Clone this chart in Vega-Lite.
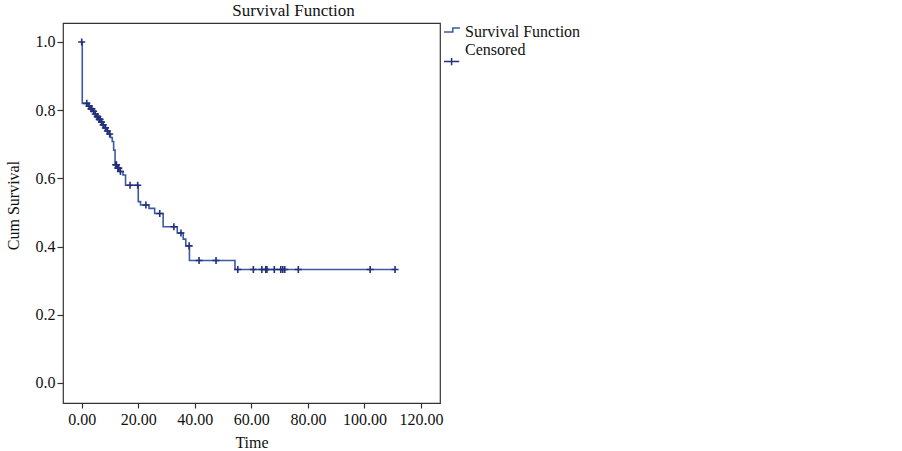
{
  "$schema": "https://vega.github.io/schema/vega-lite/v6.json",
  "width": 377,
  "height": 380,
  "autosize": {"type": "none"},
  "padding": {"left": 63, "top": 23, "right": 462, "bottom": 48},
  "background": "white",
  "title": {"text": "Survival Function", "font": "Liberation Serif", "fontSize": 17, "fontWeight": "normal", "color": "#111", "anchor": "middle", "dx": 42, "offset": 3},
  "config": {
    "view": {"stroke": "#333", "strokeWidth": 1.2},
    "axis": {"labelFont": "Liberation Serif", "titleFont": "Liberation Serif", "labelFontSize": 16, "titleFontSize": 16, "titleFontWeight": "normal", "labelColor": "#111", "titleColor": "#111", "tickColor": "#333", "domain": false, "grid": false, "tickWidth": 1.2}
  },
  "datasets": {
    "surv": [
      {"time": 0, "surv": 1.0, "series": "Survival Function"},
      {"time": 0.2, "surv": 0.82, "series": "Survival Function"},
      {"time": 2.2, "surv": 0.812, "series": "Survival Function"},
      {"time": 3.0, "surv": 0.804, "series": "Survival Function"},
      {"time": 3.8, "surv": 0.797, "series": "Survival Function"},
      {"time": 4.5, "surv": 0.789, "series": "Survival Function"},
      {"time": 5.2, "surv": 0.781, "series": "Survival Function"},
      {"time": 5.9, "surv": 0.773, "series": "Survival Function"},
      {"time": 6.8, "surv": 0.765, "series": "Survival Function"},
      {"time": 7.3, "surv": 0.757, "series": "Survival Function"},
      {"time": 8.0, "surv": 0.748, "series": "Survival Function"},
      {"time": 8.8, "surv": 0.739, "series": "Survival Function"},
      {"time": 9.5, "surv": 0.73, "series": "Survival Function"},
      {"time": 10.2, "surv": 0.72, "series": "Survival Function"},
      {"time": 10.8, "surv": 0.708, "series": "Survival Function"},
      {"time": 11.3, "surv": 0.683, "series": "Survival Function"},
      {"time": 11.8, "surv": 0.64, "series": "Survival Function"},
      {"time": 12.5, "surv": 0.63, "series": "Survival Function"},
      {"time": 13.3, "surv": 0.62, "series": "Survival Function"},
      {"time": 14.6, "surv": 0.61, "series": "Survival Function"},
      {"time": 15.5, "surv": 0.58, "series": "Survival Function"},
      {"time": 20.0, "surv": 0.532, "series": "Survival Function"},
      {"time": 20.8, "surv": 0.522, "series": "Survival Function"},
      {"time": 23.8, "surv": 0.512, "series": "Survival Function"},
      {"time": 25.8, "surv": 0.497, "series": "Survival Function"},
      {"time": 28.8, "surv": 0.458, "series": "Survival Function"},
      {"time": 33.8, "surv": 0.44, "series": "Survival Function"},
      {"time": 35.9, "surv": 0.422, "series": "Survival Function"},
      {"time": 36.8, "surv": 0.402, "series": "Survival Function"},
      {"time": 38.1, "surv": 0.359, "series": "Survival Function"},
      {"time": 54.2, "surv": 0.333, "series": "Survival Function"},
      {"time": 110.8, "surv": 0.333, "series": "Survival Function"}
    ],
    "cens": [
      {"time": 0, "surv": 1.0, "series": "Censored"},
      {"time": 1.8, "surv": 0.82, "series": "Censored"},
      {"time": 2.6, "surv": 0.812, "series": "Censored"},
      {"time": 3.3, "surv": 0.804, "series": "Censored"},
      {"time": 3.6, "surv": 0.804, "series": "Censored"},
      {"time": 4.2, "surv": 0.797, "series": "Censored"},
      {"time": 4.8, "surv": 0.789, "series": "Censored"},
      {"time": 5.5, "surv": 0.781, "series": "Censored"},
      {"time": 5.7, "surv": 0.781, "series": "Censored"},
      {"time": 6.2, "surv": 0.773, "series": "Censored"},
      {"time": 6.5, "surv": 0.773, "series": "Censored"},
      {"time": 7.0, "surv": 0.765, "series": "Censored"},
      {"time": 7.6, "surv": 0.757, "series": "Censored"},
      {"time": 8.4, "surv": 0.748, "series": "Censored"},
      {"time": 9.1, "surv": 0.739, "series": "Censored"},
      {"time": 9.9, "surv": 0.73, "series": "Censored"},
      {"time": 12.0, "surv": 0.64, "series": "Censored"},
      {"time": 12.3, "surv": 0.64, "series": "Censored"},
      {"time": 12.8, "surv": 0.63, "series": "Censored"},
      {"time": 13.1, "surv": 0.63, "series": "Censored"},
      {"time": 13.7, "surv": 0.62, "series": "Censored"},
      {"time": 17.1, "surv": 0.58, "series": "Censored"},
      {"time": 19.8, "surv": 0.58, "series": "Censored"},
      {"time": 22.7, "surv": 0.522, "series": "Censored"},
      {"time": 27.6, "surv": 0.497, "series": "Censored"},
      {"time": 32.6, "surv": 0.458, "series": "Censored"},
      {"time": 35.1, "surv": 0.44, "series": "Censored"},
      {"time": 38.0, "surv": 0.402, "series": "Censored"},
      {"time": 41.5, "surv": 0.359, "series": "Censored"},
      {"time": 47.5, "surv": 0.359, "series": "Censored"},
      {"time": 55.2, "surv": 0.333, "series": "Censored"},
      {"time": 60.7, "surv": 0.333, "series": "Censored"},
      {"time": 63.7, "surv": 0.333, "series": "Censored"},
      {"time": 65.1, "surv": 0.333, "series": "Censored"},
      {"time": 65.5, "surv": 0.333, "series": "Censored"},
      {"time": 68.1, "surv": 0.333, "series": "Censored"},
      {"time": 70.4, "surv": 0.333, "series": "Censored"},
      {"time": 71.1, "surv": 0.333, "series": "Censored"},
      {"time": 71.8, "surv": 0.333, "series": "Censored"},
      {"time": 76.6, "surv": 0.333, "series": "Censored"},
      {"time": 102.0, "surv": 0.333, "series": "Censored"},
      {"time": 110.8, "surv": 0.333, "series": "Censored"}
    ]
  },
  "encoding": {
    "x": {"field": "time", "type": "quantitative", "title": "Time",
      "scale": {"domain": [-6.61, 126.7], "nice": false, "zero": false},
      "axis": {"values": [0, 20, 40, 60, 80, 100, 120], "format": ".2f", "tickSize": 5, "labelPadding": 3, "titlePadding": 7}},
    "y": {"field": "surv", "type": "quantitative", "title": "Cum Survival",
      "scale": {"domain": [-0.0587, 1.0557], "nice": false, "zero": false},
      "axis": {"values": [0, 0.2, 0.4, 0.6, 0.8, 1.0], "format": ".1f", "tickSize": 6, "labelPadding": 2, "titlePadding": 14, "titleY": 182}},
    "color": {"field": "series", "type": "nominal",
      "scale": {"domain": ["Survival Function", "Censored"], "range": ["#3a5aa8", "#22307a"]},
      "legend": {"title": null, "orient": "none", "legendX": 380, "legendY": 0, "labelFont": "Liberation Serif", "labelFontSize": 16, "labelColor": "#111", "labelOffset": 4, "symbolSize": 256, "symbolStrokeWidth": 1.5, "rowPadding": 1, "padding": 0,
        "encode": {"symbols": {"update": {
          "shape": {"signal": "datum.value === 'Censored' ? 'M-1,1.45H0.9M-0.05,1.0V1.9' : 'M-1,0H0.1V-0.5H1'"},
          "fill": {"value": "transparent"},
          "strokeWidth": {"value": 1.5},
          "stroke": {"value": "#3a5aa8"}
        }}}}
    }
  },
  "layer": [
    {"data": {"name": "surv"}, "mark": {"type": "line", "interpolate": "step-after", "strokeWidth": 1.6}},
    {"data": {"name": "cens"}, "mark": {"type": "point", "shape": "M-1,0H1M0,-1V1", "filled": false, "size": 50, "strokeWidth": 1.6, "opacity": 1}}
  ]
}
